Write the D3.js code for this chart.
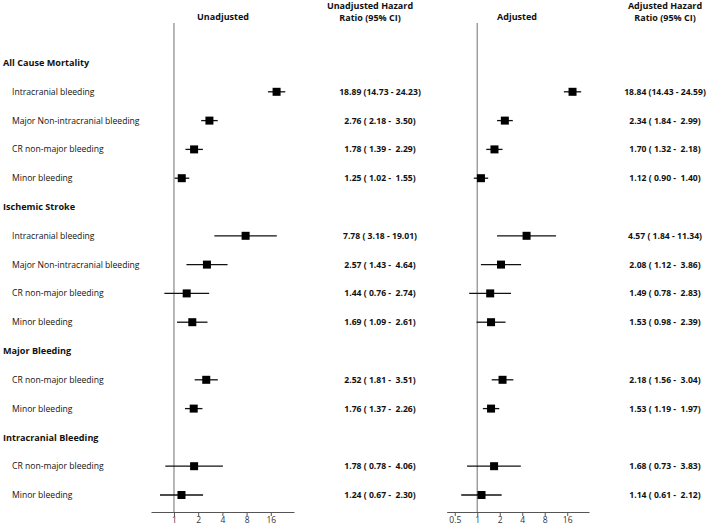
<!DOCTYPE html>
<html>
<head>
<meta charset="utf-8">
<script src="https://cdn.jsdelivr.net/npm/d3@7"></script>
<style>
    body { margin: 0; background: #fff; }
    svg { font-family: "Open Sans", sans-serif; }
    .val { white-space: pre; }
</style>
</head>
<body>
<svg width="713" height="528"></svg>
<script>
// rows, top to bottom (null outcome = item row)
let sections = ["All Cause Mortality", "Ischemic Stroke", "Major Bleeding", "Intracranial Bleeding"];
let sectionItems = [
    ["Intracranial bleeding", "Major Non-intracranial bleeding", "CR non-major bleeding", "Minor bleeding"],
    ["Intracranial bleeding", "Major Non-intracranial bleeding", "CR non-major bleeding", "Minor bleeding"],
    ["CR non-major bleeding", "Minor bleeding"],
    ["CR non-major bleeding", "Minor bleeding"]
];

// hazard ratio, lower, upper for each item, in row order
let unadjHR = [18.89, 2.76, 1.78, 1.25, 7.78, 2.57, 1.44, 1.69, 2.52, 1.76, 1.78, 1.24];
let unadjLo = [14.73, 2.18, 1.39, 1.02, 3.18, 1.43, 0.76, 1.09, 1.81, 1.37, 0.78, 0.67];
let unadjHi = [24.23, 3.50, 2.29, 1.55, 19.01, 4.64, 2.74, 2.61, 3.51, 2.26, 4.06, 2.30];

let adjHR = [18.84, 2.34, 1.70, 1.12, 4.57, 2.08, 1.49, 1.53, 2.18, 1.53, 1.68, 1.14];
let adjLo = [14.43, 1.84, 1.32, 0.90, 1.84, 1.12, 0.78, 0.98, 1.56, 1.19, 0.73, 0.61];
let adjHi = [24.59, 2.99, 2.18, 1.40, 11.34, 3.86, 2.83, 2.39, 3.04, 1.97, 3.83, 2.12];

let unadjTicks = [1, 2, 4, 8, 16];
let adjTicks = [0.5, 1, 2, 4, 8, 16];

let svg = d3.select("svg");

// build row list
let rows = [];
let k = 0;
sections.forEach((s, i) => {
    rows.push({type: "head", label: s});
    sectionItems[i].forEach(name => {
        rows.push({type: "item", label: name, idx: k});
        k++;
    });
});

let y = d3.scalePoint().domain(d3.range(rows.length)).range([63, 495]);
let axisY = 512;

let pad = v => {
    let s = v.toFixed(2);
    return s.length < 5 ? " " + s : s;
};
let fmt = (hr, lo, hi) => `${hr.toFixed(2)} (${pad(lo)} - ${pad(hi)})`;

// labels
rows.forEach((r, i) => {
    svg.append("text")
        .attr("x", r.type == "head" ? 3 : 12)
        .attr("y", y(i))
        .attr("dy", "0.35em")
        .attr("font-size", r.type == "head" ? 9.1 : 8.6)
        .attr("font-weight", r.type == "head" ? "bold" : "normal")
        .attr("fill", "#111")
        .text(r.label);
});

function panel(opts) {
    let x = d3.scaleLog().base(2).domain(opts.domain).range(opts.range);
    let g = svg.append("g");

    // title
    g.append("text")
        .attr("x", opts.titleX).attr("y", 17).attr("dy", "0.35em")
        .attr("text-anchor", "middle")
        .attr("font-size", 9).attr("font-weight", "bold").attr("fill", "#111")
        .text(opts.title);

    // HR column heading
    opts.colTitle.forEach((t, i) => {
        g.append("text")
            .attr("x", opts.colTitleX).attr("y", 6 + i * 11.5).attr("dy", "0.35em")
            .attr("text-anchor", "middle")
            .attr("font-size", 9).attr("font-weight", "bold").attr("fill", "#111")
            .text(t);
    });

    // reference line at 1
    g.append("line")
        .attr("x1", x(1)).attr("x2", x(1))
        .attr("y1", 23).attr("y2", axisY)
        .attr("stroke", "#999").attr("stroke-width", 1.4);

    // axis
    let axis = g.append("g")
        .attr("transform", `translate(0,${axisY})`)
        .call(d3.axisBottom(x)
            .tickValues(opts.ticks)
            .tickFormat(d3.format(""))
            .tickSize(4)
            .tickSizeOuter(0));
    axis.select(".domain").attr("stroke", "#555");
    axis.selectAll(".tick line").attr("stroke", "#555");
    axis.selectAll(".tick text")
        .attr("font-family", "Open Sans, sans-serif")
        .attr("font-size", 8.5).attr("fill", "#333").attr("dy", "0.5em");

    let items = rows.map((r, i) => ({r: r, i: i})).filter(d => d.r.type == "item");

    g.selectAll(".ci").data(items).enter().append("line")
        .attr("x1", d => x(opts.lo[d.r.idx]))
        .attr("x2", d => x(opts.hi[d.r.idx]))
        .attr("y1", d => y(d.i)).attr("y2", d => y(d.i))
        .attr("stroke", "#111").attr("stroke-width", 1.3);

    let s = 8;
    g.selectAll(".pt").data(items).enter().append("rect")
        .attr("x", d => x(opts.hr[d.r.idx]) - s / 2)
        .attr("y", d => y(d.i) - s / 2)
        .attr("width", s).attr("height", s)
        .attr("fill", "#000");

    g.selectAll(".val").data(items).enter().append("text")
        .attr("class", "val")
        .attr("x", opts.valX)
        .attr("y", d => y(d.i)).attr("dy", "0.35em")
        .attr("text-anchor", "middle")
        .attr("font-size", 8.6).attr("font-weight", "bold").attr("fill", "#111")
        .text(d => fmt(opts.hr[d.r.idx], opts.lo[d.r.idx], opts.hi[d.r.idx]));
}

panel({
    title: "Unadjusted", titleX: 223,
    colTitle: ["Unadjusted Hazard", "Ratio (95% CI)"], colTitleX: 370,
    domain: [0.518, 31.1], range: [151, 294],
    ticks: unadjTicks,
    hr: unadjHR, lo: unadjLo, hi: unadjHi,
    valX: 380
});

panel({
    title: "Adjusted", titleX: 517,
    colTitle: ["Adjusted Hazard", "Ratio (95% CI)"], colTitleX: 665,
    domain: [0.39, 31.3], range: [446.7, 589],
    ticks: adjTicks,
    hr: adjHR, lo: adjLo, hi: adjHi,
    valX: 665
});
</script>
</body>
</html>
